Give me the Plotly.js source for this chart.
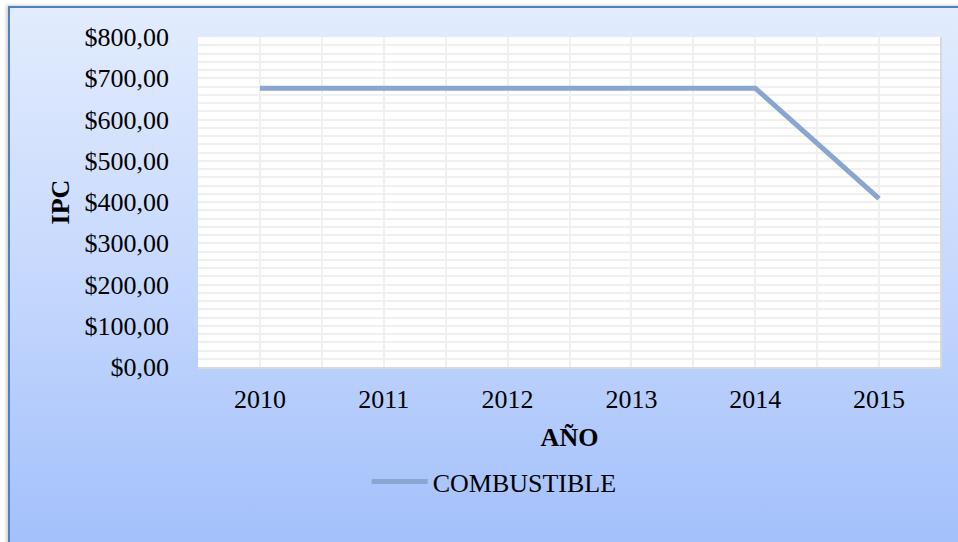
<!DOCTYPE html>
<html>
<head>
<meta charset="utf-8">
<script src="https://cdn.plot.ly/plotly-3.0.1.min.js"></script>
<style>
  html, body { margin: 0; padding: 0; background: #ffffff; width: 958px; height: 542px; overflow: hidden; }
  #bg { position: absolute; left: 8px; top: 6px; width: 960px; height: 540px;
        border-left: 2px solid #4f81bd; border-top: 2px solid #4f81bd;
        background: linear-gradient(to bottom, #e2ecfd 0%, #c9dafd 45%, #a2c0fb 100%);
        box-shadow: -2px -1px 3px rgba(0,0,0,0.18); }
  #chart { position: absolute; left: 0; top: 0; width: 958px; height: 542px; }
</style>
</head>
<body>
<div id="bg"></div>
<div id="chart"></div>
<script>
const years = [2010, 2011, 2012, 2013, 2014, 2015];
const yearLabels = ["2010", "2011", "2012", "2013", "2014", "2015"];
const combustible = [676, 676, 676, 676, 676, 408];
const yTickVals = [0, 100, 200, 300, 400, 500, 600, 700, 800];
const yTickText = ["$0,00", "$100,00", "$200,00", "$300,00", "$400,00", "$500,00", "$600,00", "$700,00", "$800,00"];

const font = { family: "Liberation Serif, Times New Roman, serif", size: 26, color: "#000000" };

const trace = {
  x: years,
  y: combustible,
  type: "scatter",
  mode: "lines",
  name: "COMBUSTIBLE",
  line: { color: "#8aa6d0", width: 5 }
};

const layout = {
  width: 958,
  height: 542,
  margin: { l: 198, r: 17, t: 37, b: 175 },
  paper_bgcolor: "rgba(0,0,0,0)",
  plot_bgcolor: "#ffffff",
  font: font,
  showlegend: true,
  legend: {
    orientation: "h",
    x: 0.227, xanchor: "left",
    y: -0.347, yanchor: "middle",
    bgcolor: "rgba(0,0,0,0)",
    font: font,
    itemwidth: 56
  },
  xaxis: {
    type: "linear",
    range: [2009.5, 2015.5],
    tickvals: years,
    ticktext: yearLabels,
    ticks: "",
    ticklabelstandoff: 8,
    showgrid: true,
    gridcolor: "#f0f0f0",
    gridwidth: 2,
    minor: { tick0: 2009.5, dtick: 1, showgrid: true, gridcolor: "#f0f0f0", gridwidth: 2 },
    zeroline: false,
    showline: true,
    linecolor: "#d9d9d9",
    linewidth: 2,
    mirror: false,
    fixedrange: true,
    title: { text: "<b>AÑO</b>", font: font, standoff: 15 }
  },
  yaxis: {
    range: [0, 800],
    tickvals: yTickVals,
    ticktext: yTickText,
    ticks: "",
    ticklabelstandoff: 28,
    showgrid: true,
    gridcolor: "#f0f0f0",
    gridwidth: 2,
    minor: { dtick: 20, showgrid: true, gridcolor: "#f0f0f0", gridwidth: 2 },
    zeroline: false,
    showline: false,
    fixedrange: true,
    title: { text: "<b>IPC</b>", font: font, standoff: 7 }
  },
  shapes: [
    { type: "line", xref: "paper", yref: "paper", x0: 1, x1: 1, y0: 0, y1: 1,
      line: { color: "#d9d9d9", width: 2 } }
  ]
};

Plotly.newPlot("chart", [trace], layout, { displayModeBar: false, staticPlot: true });
</script>
</body>
</html>
